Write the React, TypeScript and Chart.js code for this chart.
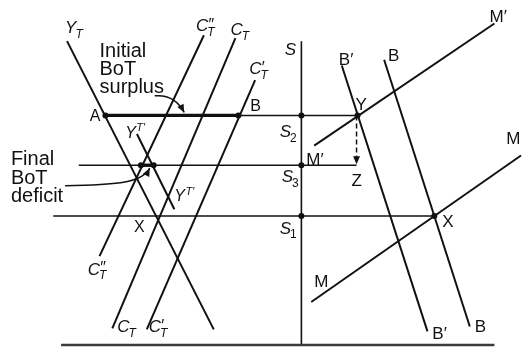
import React, { useEffect, useRef } from "react";
import { Chart, registerables } from "chart.js";

Chart.register(...registerables);

type Pt = [number, number];

// Diagram coordinates: x grows to the right, y grows downward.
const Y_T_CURVE: Pt[] = [[64, 38], [213, 333]];
const C2_T_CURVE: Pt[] = [[203, 32], [97, 258]];
const C_T_CURVE: Pt[] = [[235, 35], [110, 332]];
const C1_T_CURVE: Pt[] = [[255, 78], [145, 333]];
const YT_PRIME_CURVE: Pt[] = [[135, 133], [173, 210]];
const M_PRIME_CURVE: Pt[] = [[315, 145], [498, 20]];
const M_CURVE: Pt[] = [[312, 305], [525, 155]];
const B_PRIME_CURVE: Pt[] = [[343, 63], [430, 335]];
const B_CURVE: Pt[] = [[386, 57], [473, 330]];
const S_AXIS: Pt[] = [[302, 38], [302, 349]];
const BASE_AXIS: Pt[] = [[58, 349], [498, 349]];
const S2_LEVEL: Pt[] = [[103, 114], [359, 114]];
const S3_LEVEL: Pt[] = [[76, 165], [358, 165]];
const S1_LEVEL: Pt[] = [[50, 217], [437, 217]];
const SURPLUS_GAP: Pt[] = [[103, 114], [238, 114]];
const DEFICIT_GAP: Pt[] = [[139, 165], [152, 165]];
const DROP_Y_TO_Z: Pt[] = [[358, 114], [358, 157]];
const MARKED_POINTS: Pt[] = [
  [103, 114], [238, 114], [302, 114], [359, 114],
  [139, 165], [152, 165], [302, 165], [302, 217], [437, 217],
];
const SURPLUS_ARROW: Pt[] = [[153, 94], [173, 92], [183, 111]];
const DEFICIT_ARROW: Pt[] = [[62, 186], [110, 185], [140, 184], [148, 168]];
const DROP_TIP: Pt = [358, 164];

type Label = {
  x: number; y: number; size: number; t: string; it?: boolean;
  sup?: string; supIt?: boolean; supBig?: boolean; sub?: string; subIt?: boolean;
};

const CURVE_LABELS: Label[] = [
  { x: 62, y: 30, size: 17, t: "Y", it: true, sub: "T", subIt: true },
  { x: 195, y: 28, size: 17, t: "C", it: true, sup: "\u2033", supIt: true, supBig: true, sub: "T", subIt: true },
  { x: 230, y: 32, size: 17, t: "C", it: true, sub: "T", subIt: true },
  { x: 249, y: 72, size: 17, t: "C", it: true, sup: "\u2032", supIt: true, supBig: true, sub: "T", subIt: true },
  { x: 123, y: 137, size: 16, t: "Y", it: true, sup: "T\u2032", supIt: true },
  { x: 173, y: 202, size: 16, t: "Y", it: true, sup: "T\u2032", supIt: true },
  { x: 85, y: 277, size: 17, t: "C", it: true, sup: "\u2033", supIt: true, supBig: true, sub: "T", subIt: true },
  { x: 115, y: 336, size: 17, t: "C", it: true, sub: "T", subIt: true },
  { x: 147, y: 336, size: 17, t: "C", it: true, sup: "\u2032", supIt: true, supBig: true, sub: "T", subIt: true },
  { x: 285, y: 52, size: 17, t: "S", it: true },
  { x: 280, y: 136, size: 17, t: "S", it: true, sub: "2" },
  { x: 282, y: 182, size: 17, t: "S", it: true, sub: "3" },
  { x: 280, y: 235, size: 17, t: "S", it: true, sub: "1" },
];

const POINT_LABELS: Label[] = [
  { x: 87, y: 120, size: 16, t: "A" },
  { x: 250, y: 110, size: 16, t: "B" },
  { x: 132, y: 233, size: 16, t: "X" },
  { x: 340, y: 62, size: 17, t: "B\u2032" },
  { x: 390, y: 58, size: 17, t: "B" },
  { x: 493, y: 18, size: 17, t: "M\u2032" },
  { x: 357, y: 108, size: 17, t: "Y" },
  { x: 307, y: 165, size: 17, t: "M\u2032" },
  { x: 353, y: 186, size: 17, t: "Z" },
  { x: 510, y: 143, size: 17, t: "M" },
  { x: 445, y: 228, size: 17, t: "X" },
  { x: 315, y: 290, size: 17, t: "M" },
  { x: 435, y: 343, size: 17, t: "B\u2032" },
  { x: 478, y: 336, size: 17, t: "B" },
];

const NOTE_LABELS: Label[] = [
  { x: 97, y: 54, size: 20, t: "Initial" },
  { x: 97, y: 73, size: 20, t: "BoT" },
  { x: 97, y: 91, size: 20, t: "surplus" },
  { x: 7, y: 165, size: 20, t: "Final" },
  { x: 7, y: 184, size: 20, t: "BoT" },
  { x: 7, y: 203, size: 20, t: "deficit" },
];

const FAMILY = '"Liberation Sans", Arial, Helvetica, sans-serif';
const INK = "#111111";

const toData = (pts: Pt[]) => pts.map(([x, y]) => ({ x, y }));

const seg = (pts: Pt[], width: number, extra: any = {}) => ({
  type: "scatter" as const,
  data: toData(pts),
  showLine: true,
  borderColor: INK,
  borderWidth: width,
  pointRadius: 0,
  fill: false,
  clip: false,
  ...extra,
});

function drawLabel(ctx: CanvasRenderingContext2D, px: number, py: number, L: Label) {
  ctx.fillStyle = INK;
  ctx.textAlign = "left";
  ctx.textBaseline = "alphabetic";
  ctx.font = `${L.it ? "italic " : ""}${L.size}px ${FAMILY}`;
  ctx.fillText(L.t, px, py);
  const w = ctx.measureText(L.t).width;
  const ss = Math.round(L.size * 0.7);
  if (L.sup) {
    const supSize = L.supBig ? Math.round(L.size * 0.95) : ss;
    ctx.font = `${L.supIt ? "italic " : ""}${supSize}px ${FAMILY}`;
    const dy = L.supBig ? L.size * 0.1 : L.size * 0.42;
    ctx.fillText(L.sup, px + w + (L.supBig ? -0.5 : 0.5), py - dy);
  }
  if (L.sub) {
    ctx.font = `${L.subIt ? "italic " : ""}${ss}px ${FAMILY}`;
    ctx.fillText(L.sub, px + w - (L.it ? 1 : 0), py + L.size * 0.28);
  }
}

function arrowHead(ctx: CanvasRenderingContext2D, x: number, y: number, ang: number, len = 8, half = 3.5) {
  const c = Math.cos(ang), s = Math.sin(ang);
  ctx.beginPath();
  ctx.moveTo(x, y);
  ctx.lineTo(x - len * c + half * s, y - len * s - half * c);
  ctx.lineTo(x - len * c - half * s, y - len * s + half * c);
  ctx.closePath();
  ctx.fill();
}

const annotationPlugin = {
  id: "diagramAnnotations",
  afterDatasetsDraw(chart: any) {
    const ctx: CanvasRenderingContext2D = chart.ctx;
    const xs = chart.scales.x, ys = chart.scales.y;
    const P = (p: Pt): Pt => [xs.getPixelForValue(p[0]), ys.getPixelForValue(p[1])];
    ctx.save();
    ctx.strokeStyle = INK;
    ctx.fillStyle = INK;
    ctx.lineWidth = 1.5;

    const a0 = P(SURPLUS_ARROW[0]), a1 = P(SURPLUS_ARROW[1]), a2 = P(SURPLUS_ARROW[2]);
    ctx.beginPath();
    ctx.moveTo(a0[0], a0[1]);
    ctx.quadraticCurveTo(a1[0], a1[1], a2[0], a2[1]);
    ctx.stroke();
    arrowHead(ctx, a2[0], a2[1], Math.atan2(a2[1] - a1[1], a2[0] - a1[0]));

    const d0 = P(DEFICIT_ARROW[0]), d1 = P(DEFICIT_ARROW[1]), d2 = P(DEFICIT_ARROW[2]), d3 = P(DEFICIT_ARROW[3]);
    ctx.beginPath();
    ctx.moveTo(d0[0], d0[1]);
    ctx.bezierCurveTo(d1[0], d1[1], d2[0], d2[1], d3[0], d3[1]);
    ctx.stroke();
    arrowHead(ctx, d3[0], d3[1], Math.atan2(d3[1] - d2[1], d3[0] - d2[0]));

    const t = P(DROP_TIP);
    arrowHead(ctx, t[0], t[1], Math.PI / 2, 8, 3.5);

    for (const L of [...CURVE_LABELS, ...POINT_LABELS, ...NOTE_LABELS]) {
      const [px, py] = P([L.x, L.y]);
      drawLabel(ctx, px, py, L);
    }
    ctx.restore();
  },
};

export default function App() {
  const ref = useRef<HTMLCanvasElement | null>(null);

  useEffect(() => {
    if (!ref.current) return;
    const chart = new Chart(ref.current, {
      type: "scatter",
      data: {
        datasets: [
          seg(BASE_AXIS, 2.6, { borderColor: "#3a3a3a" }),
          seg(S_AXIS, 1.6),
          seg(S2_LEVEL, 1.5),
          seg(S3_LEVEL, 1.5),
          seg(S1_LEVEL, 1.5),
          seg(Y_T_CURVE, 2),
          seg(C2_T_CURVE, 2),
          seg(C_T_CURVE, 2),
          seg(C1_T_CURVE, 2),
          seg(YT_PRIME_CURVE, 2),
          seg(M_PRIME_CURVE, 2),
          seg(M_CURVE, 2),
          seg(B_PRIME_CURVE, 2),
          seg(B_CURVE, 2),
          seg(SURPLUS_GAP, 3.4),
          seg(DEFICIT_GAP, 3.4),
          seg(DROP_Y_TO_Z, 1.5, { borderDash: [5, 3] }),
          {
            type: "scatter" as const,
            data: toData(MARKED_POINTS),
            showLine: false,
            pointRadius: 3,
            pointBackgroundColor: INK,
            pointBorderColor: INK,
            pointBorderWidth: 0,
            clip: false,
          },
        ] as any,
      },
      options: {
        responsive: false,
        maintainAspectRatio: false,
        animation: false,
        events: [],
        layout: { padding: 0 },
        plugins: { legend: { display: false }, tooltip: { enabled: false } },
        scales: {
          x: { type: "linear", min: 0, max: 525, display: false },
          y: { type: "linear", min: 0, max: 351, reverse: true, display: false },
        },
      },
      plugins: [annotationPlugin],
    });
    return () => chart.destroy();
  }, []);

  return (
    <div style={{ position: "absolute", left: 0, top: 0, width: 525, height: 351, background: "#ffffff" }}>
      <canvas ref={ref} width={525} height={351} style={{ width: 525, height: 351, display: "block" }} />
    </div>
  );
}
